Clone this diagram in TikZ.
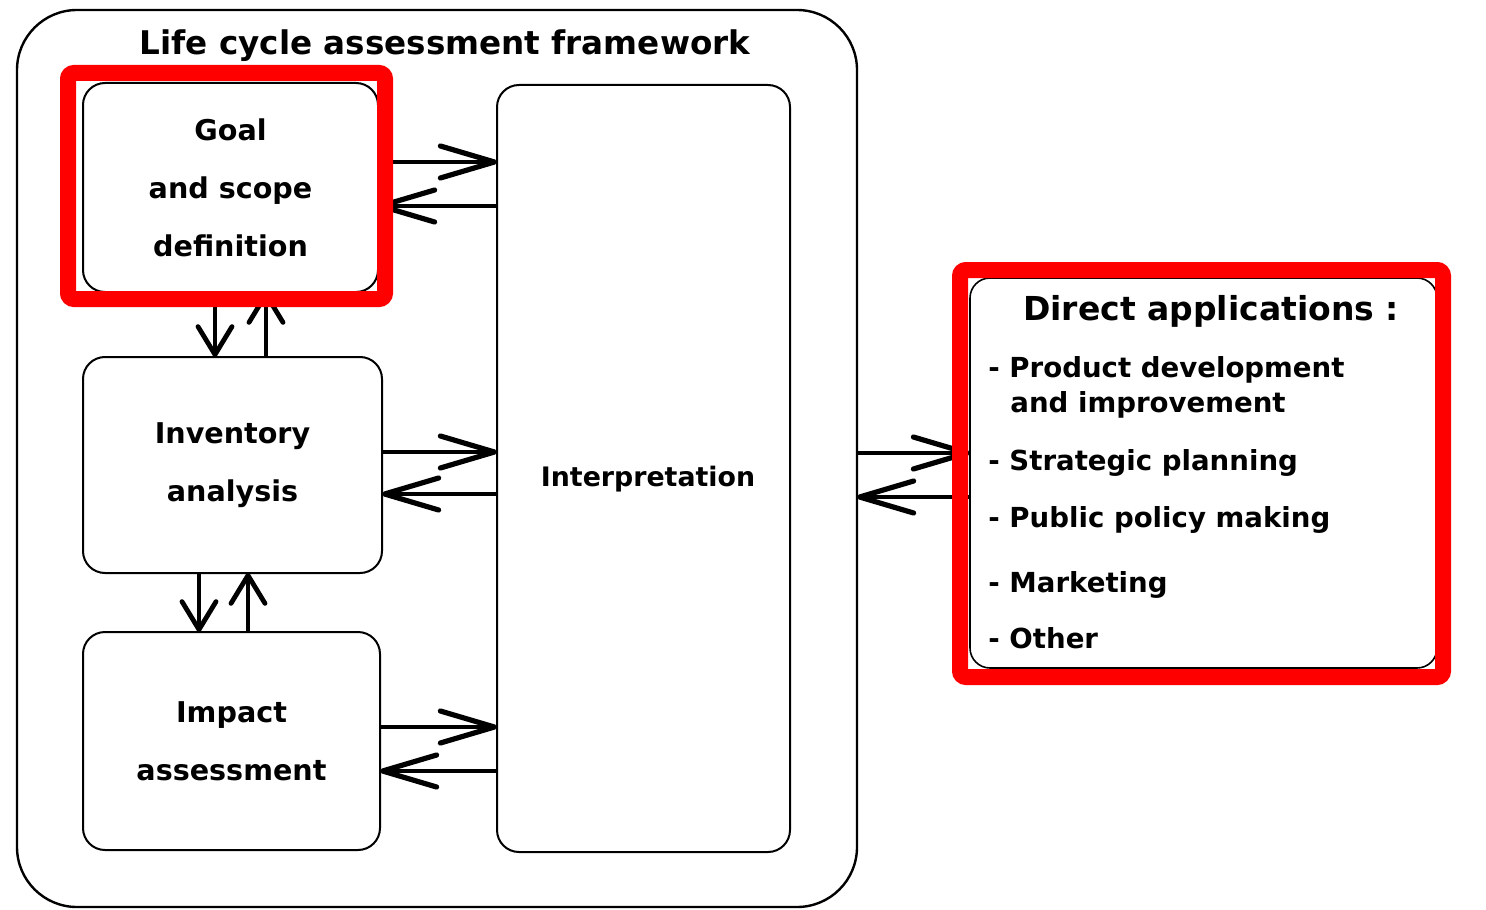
\documentclass[tikz,border=0pt]{standalone}
\usepackage{fontspec}
\setmainfont{DejaVu Sans}
\usetikzlibrary{arrows.meta}
\begin{document}
\begin{tikzpicture}[x=0.5pt,y=-0.5pt,
  box/.style={draw, line width=1pt, rounded corners=11pt, inner sep=0pt, outer sep=0pt, align=center,
    font=\bfseries\fontsize{14.3}{29}\selectfont},
  outerbox/.style={draw, line width=1.2pt, rounded corners=30pt, inner sep=0pt, outer sep=0pt},
  redbox/.style={draw=red, line width=8pt, rounded corners=3pt, inner sep=0pt, outer sep=0pt},
  harr/.style={line width=1.6pt, -{Straight Barb[length=27pt, width=16pt, line width=2.6pt, round]}},
  varr/.style={line width=1.6pt, -{Straight Barb[length=14pt, width=17pt, line width=2.4pt, round]}},
  itemtxt/.style={anchor=base west, inner sep=0pt, font=\bfseries\fontsize{13.8}{16}\selectfont},
]
\useasboundingbox (0,0) rectangle (1486,909);
\fill[white] (0,0) rectangle (1486,909);

\node[outerbox, minimum width=420pt, minimum height=448.5pt] (outer) at (437,458.5) {};
\node[anchor=base, inner sep=0pt, font=\bfseries\fontsize{16.3}{18}\selectfont] (title) at (445,55) {Life cycle assessment framework};

\node[box, minimum width=147.5pt, minimum height=104.5pt] (goal) at (230.5,187.5) {Goal\\and scope\\definition};
\node[box, minimum width=149.5pt, minimum height=108pt] (inv) at (232.5,465) {Inventory\\analysis};
\node[box, minimum width=148.5pt, minimum height=109pt] (imp) at (231.5,741) {Impact\\assessment};
\node[box, minimum width=146.5pt, minimum height=383.5pt] (interp) at (643.5,468.5) {};
\node[inner sep=0pt, font=\bfseries\fontsize{13.4}{17}\selectfont] (interptext) at (648,479) {Interpretation};

\node[draw, line width=0.8pt, rounded corners=10pt, inner sep=0pt, outer sep=0pt,
  minimum width=233.5pt, minimum height=195pt] (direct) at (1203.5,473) {};
\node[anchor=base, inner sep=0pt, font=\bfseries\fontsize{16.5}{20}\selectfont] (dtitle) at (1211,320) {Direct applications :};
\node[itemtxt] (i1) at (988,377) {- Product development};
\node[itemtxt] (i1b) at (1010,412) {and improvement};
\node[itemtxt] (i2) at (988,470) {- Strategic planning};
\node[itemtxt] (i3) at (988,527) {- Public policy making};
\node[itemtxt] (i4) at (988,592) {- Marketing};
\node[itemtxt] (i5) at (988,648) {- Other};

% horizontal arrows
\draw[harr] (goal.east |- 0,162) -- (interp.west |- 0,162);
\draw[harr] (interp.west |- 0,206) -- (goal.east |- 0,206);
\draw[harr] (inv.east |- 0,452) -- (interp.west |- 0,452);
\draw[harr] (interp.west |- 0,494) -- (inv.east |- 0,494);
\draw[harr] (imp.east |- 0,727) -- (interp.west |- 0,727);
\draw[harr] (interp.west |- 0,771) -- (imp.east |- 0,771);
\draw[harr] (outer.east |- 0,453) -- (direct.west |- 0,453);
\draw[harr] (direct.west |- 0,497) -- (outer.east |- 0,497);

% vertical arrows
\draw[varr] (goal.south -| 215,0) -- (inv.north -| 215,0);
\draw[varr] (inv.north -| 266,0) -- (goal.south -| 266,0);
\draw[varr] (inv.south -| 199,0) -- (imp.north -| 199,0);
\draw[varr] (imp.north -| 248,0) -- (inv.south -| 248,0);

% red highlight frames
\node[redbox, minimum width=158.5pt, minimum height=113pt] (redgoal) at (226.5,186) {};
\node[redbox, minimum width=241.5pt, minimum height=203.5pt] (reddirect) at (1201.5,473.5) {};
\end{tikzpicture}
\end{document}
